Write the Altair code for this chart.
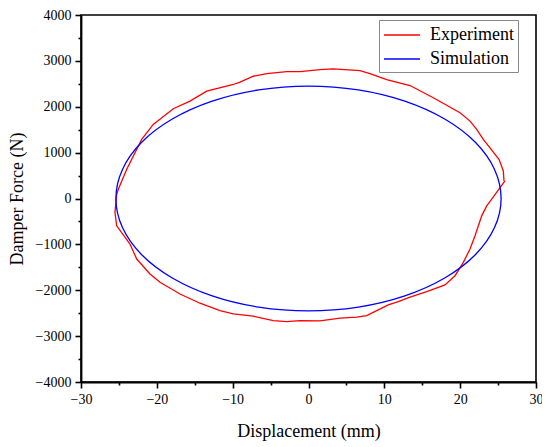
import altair as alt
import pandas as pd

# Experiment loop (displacement mm, force N)
exp_x = [25.78, 25.69, 25.12, 23.05, 22.18, 21.30, 19.98, 16.46, 13.39, 10.31,
         8.11, 6.79, 3.27, 1.52, -1.12, -2.87, -5.51, -7.28, -9.03, -9.92,
         -13.42, -15.63, -17.83, -20.47, -22.00, -23.97, -25.08, -25.29, -25.52, -25.29,
         -23.54, -22.65, -20.90, -19.58, -16.94, -14.31, -11.67, -9.92, -7.28, -4.64,
         -2.87, -1.12, 1.52, 4.16, 6.36, 7.68, 8.99, 10.52, 11.84, 13.39,
         15.59, 18.00, 19.32, 20.42, 21.30, 21.96, 22.84, 23.50, 24.16, 25.26,
         25.91]
exp_y = [383, 600, 854, 1289, 1506, 1687, 1869, 2196, 2463, 2593,
         2724, 2789, 2826, 2811, 2767, 2767, 2724, 2665, 2535, 2485,
         2339, 2122, 1956, 1615, 1289, 637, 202, 93, -305, -596,
         -994, -1320, -1646, -1826, -2081, -2283, -2444, -2515, -2565, -2661,
         -2683, -2661, -2668, -2609, -2587, -2552, -2444, -2320, -2248, -2152,
         -2031, -1885, -1683, -1392, -1102, -813, -378, -161, -15, 239,
         383]

# Simulation loop
sim_x = [25.4, 24.53, 22.0, 17.96, 12.7, 6.57, 0.0, -6.57, -12.7, -17.96, -22.0, -24.53,
         -25.4, -24.53, -22.0, -17.96, -12.7, -6.57, 0.0, 6.57, 12.7, 17.96, 22.0, 24.53]
sim_y = [0, 634, 1225, 1732, 2122, 2367, 2450, 2367, 2122, 1732, 1225, 634,
         0, -634, -1225, -1732, -2122, -2367, -2450, -2367, -2122, -1732, -1225, -634]

x_major = [-30, -20, -10, 0, 10, 20, 30]
x_minor = [-25, -15, -5, 5, 15, 25]
y_major = [-4000, -3000, -2000, -1000, 0, 1000, 2000, 3000, 4000]
y_minor = [-3500, -2500, -1500, -500, 500, 1500, 2500, 3500]

exp_df = pd.DataFrame({"x": exp_x, "y": exp_y, "series": "Experiment",
                       "i": range(len(exp_x))})
sim_df = pd.DataFrame({"x": sim_x, "y": sim_y, "series": "Simulation",
                       "i": range(len(sim_x))})

FONT = "Liberation Serif"

xscale = alt.Scale(domain=[-30, 30], nice=False, zero=False)
yscale = alt.Scale(domain=[-4000, 4000], nice=False, zero=False)
color = alt.Color(
    "series:N",
    scale=alt.Scale(domain=["Experiment", "Simulation"], range=["#FF0000", "#0000FF"]),
    legend=alt.Legend(
        title=None, orient="none", legendX=298, legendY=5,
        symbolType="M-1.8,0H1.8", symbolSize=400, symbolStrokeWidth=1.3,
        symbolFillColor="transparent", symbolOffset=8,
        labelFont=FONT, labelFontSize=18, labelColor="black", labelOffset=17,
        padding=4, strokeColor="#888888", fillColor="white", rowPadding=4,
    ),
)

major_x_axis = alt.Axis(values=x_major, orient="bottom", title="Displacement (mm)",
                        format="d", tickSize=6, labelPadding=4, titlePadding=16,
                        labelFont=FONT, labelFontSize=14, labelColor="black",
                        labelFlush=False, labelOverlap=False, grid=False)
major_y_axis = alt.Axis(values=y_major, orient="left", title="Damper Force (N)",
                        format="d", tickSize=6, labelPadding=4, titlePadding=9,
                        labelFont=FONT, labelFontSize=14, labelColor="black",
                        labelFlush=False, labelOverlap=False, grid=False)
minor_x_axis = alt.Axis(values=x_minor, orient="bottom", title=None, labels=False,
                        domain=False, tickSize=3, grid=False)
minor_y_axis = alt.Axis(values=y_minor, orient="left", title=None, labels=False,
                        domain=False, tickSize=3, grid=False)

exp_line = alt.Chart(exp_df).mark_line(strokeWidth=1.3, interpolate="linear").encode(
    x=alt.X("x:Q", scale=xscale, axis=major_x_axis),
    y=alt.Y("y:Q", scale=yscale, axis=major_y_axis),
    color=color,
    order="i:Q",
)

sim_line = alt.Chart(sim_df).mark_line(strokeWidth=1.3, interpolate="cardinal-closed").encode(
    x=alt.X("x:Q", scale=xscale, axis=minor_x_axis),
    y=alt.Y("y:Q", scale=yscale, axis=minor_y_axis),
    color=color,
    order="i:Q",
)

chart = alt.layer(exp_line, sim_line).resolve_axis(x="independent", y="independent").properties(
    width=455, height=367,
    background="white",
    autosize=alt.AutoSizeParams(type="none"),
    padding={"left": 73, "top": 7, "right": 6, "bottom": 62},
).configure_view(
    stroke="black", strokeWidth=1.6,
).configure_axis(
    domainColor="black", domainWidth=1.8, tickColor="black", tickWidth=1.6,
    labelFont=FONT, labelFontSize=14, labelColor="black",
    titleFont=FONT, titleFontSize=18, titleFontWeight="normal", titleColor="black",
)

chart.save("out.html", embed_options={"renderer": "svg", "actions": False})
